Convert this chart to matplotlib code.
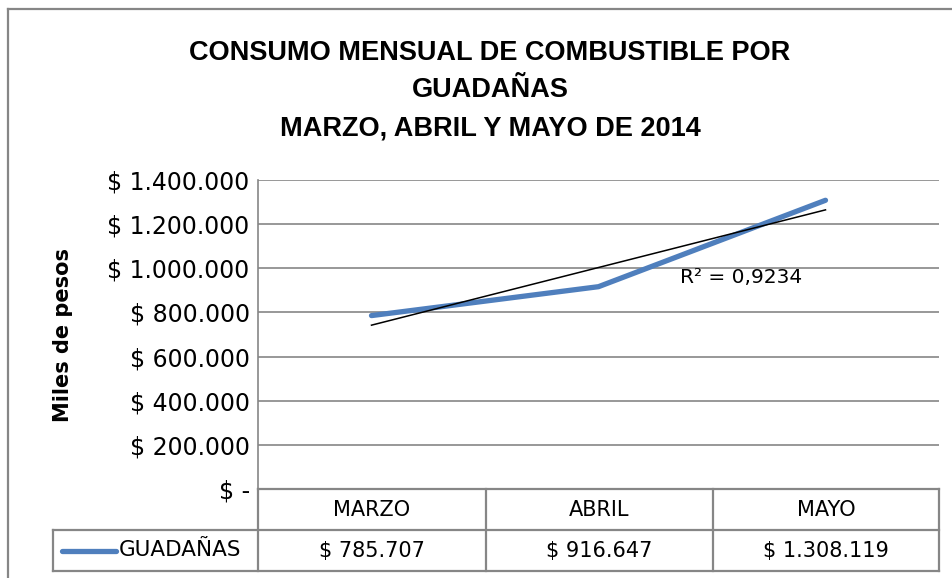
import matplotlib.pyplot as plt
import numpy as np

months = ['MARZO', 'ABRIL', 'MAYO']
guadanas = [785707, 916647, 1308119]
y_ticks = [0, 200000, 400000, 600000, 800000, 1000000, 1200000, 1400000]
series_name = 'GUADAÑAS'
r2_text = 'R² = 0,9234'


def pesos(v):
    if v == 0:
        return '$ -'
    return '$ ' + f'{v:,.0f}'.replace(',', '.')


plt.rcParams['font.family'] = ['DejaVu Sans']

W, H = 953, 578
fig = plt.figure(figsize=(W / 100, H / 100), dpi=100, facecolor='white')

grid_c = '#868686'
line_c = '#4F7FBD'

# outer chart frame
fig.add_artist(plt.Line2D([8 / W, 8 / W], [0, 1 - 9 / H], transform=fig.transFigure,
                          color=grid_c, lw=1.6))
fig.add_artist(plt.Line2D([8 / W, 1], [1 - 9 / H, 1 - 9 / H], transform=fig.transFigure,
                          color=grid_c, lw=1.6))

# plot area in pixels
L, R, T, B = 258, 939, 180, 489
ax = fig.add_axes([L / W, 1 - B / H, (R - L) / W, (B - T) / H])
ax.set_xlim(0.5, 3.5)
ax.set_ylim(0, 1400000)

x = np.arange(1, len(months) + 1)
ax.plot(x, guadanas, color=line_c, lw=3.8, solid_capstyle='round', zorder=3)

# linear trend line
k, b = np.polyfit(x, guadanas, 1)
ax.plot(x, k * x + b, color='black', lw=1.1, zorder=4)
ax.text(2.36, 956000, r2_text, fontsize=14.5, ha='left', va='center', zorder=5)

ax.set_yticks(y_ticks)
ax.set_yticklabels([pesos(v) for v in y_ticks], fontsize=17)
ax.yaxis.grid(True, color=grid_c, lw=1.2)
ax.set_xticks([])
ax.tick_params(axis='y', length=0, pad=6)
for s in ['top', 'right', 'bottom']:
    ax.spines[s].set_visible(False)
ax.spines['left'].set_color(grid_c)
ax.spines['left'].set_linewidth(1.2)
ax.set_ylabel('Miles de pesos', fontsize=15, fontweight='bold')
ax.yaxis.set_label_coords((73 - L) / (R - L), 0.5)

# data table below the plot
def fx(px):
    return px / W


def fy(py):
    return 1 - py / H


rows = [489, 530, 571]
cols = [L, 486, 713, R]
legend_left = 53
tc = dict(transform=fig.transFigure, color=grid_c, lw=1.6)
for i, ry in enumerate(rows):
    x0 = L if i == 0 else legend_left
    fig.add_artist(plt.Line2D([fx(x0), fx(R)], [fy(ry), fy(ry)], **tc))
for cx in cols:
    fig.add_artist(plt.Line2D([fx(cx), fx(cx)], [fy(rows[0]), fy(rows[2])], **tc))
fig.add_artist(plt.Line2D([fx(legend_left), fx(legend_left)], [fy(rows[1]), fy(rows[2])], **tc))

for i, m in enumerate(months):
    cxm = (cols[i] + cols[i + 1]) / 2
    fig.text(fx(cxm), fy((rows[0] + rows[1]) / 2), m, fontsize=15, ha='center', va='center')
    fig.text(fx(cxm), fy((rows[1] + rows[2]) / 2), pesos(guadanas[i]), fontsize=15,
             ha='center', va='center')

ly = fy((rows[1] + rows[2]) / 2)
fig.add_artist(plt.Line2D([fx(62), fx(116)], [ly, ly], transform=fig.transFigure,
                          color=line_c, lw=3.8, solid_capstyle='round'))
fig.text(fx(119), ly, series_name, fontsize=15.5, ha='left', va='center')

# title
tkw = dict(fontsize=19.5, fontweight='bold', ha='center', va='center',
           family=['Liberation Sans', 'DejaVu Sans'])
fig.text(fx(490), fy(53), 'CONSUMO MENSUAL DE COMBUSTIBLE POR', **tkw)
fig.text(fx(490), fy(90), 'GUADAÑAS', **tkw)
fig.text(fx(490), fy(128), 'MARZO, ABRIL Y MAYO DE 2014', **tkw)

fig.savefig('out.png', dpi=100, facecolor='white')
